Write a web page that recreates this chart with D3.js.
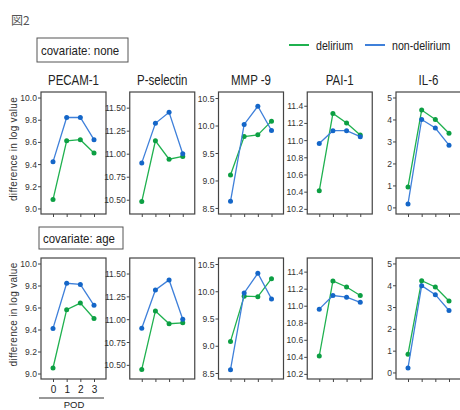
<!DOCTYPE html>
<html lang="en">
<head>
<meta charset="utf-8">
<title>図2</title>
<style>
  * { margin: 0; padding: 0; }
  body { background: #fff; width: 460px; height: 410px; overflow: hidden; }
  text { font-family: 'Liberation Sans', Arial, sans-serif; fill: #222; }
</style>
</head>
<body>
<svg id="chart" width="460" height="410"></svg>
<script src="https://d3js.org/d3.v7.min.js"></script>
<script>
// markers and post-operative days
var markers = ["PECAM-1", "P-selectin", "MMP -9", "PAI-1", "IL-6"];
var pod = [0, 1, 2, 3];

// covariate: none
var noneDelirium = [
    [9.08, 9.61, 9.62, 9.50],
    [10.48, 11.14, 10.94, 10.97],
    [9.10, 9.80, 9.83, 10.08],
    [10.41, 11.31, 11.20, 11.06],
    [0.93, 4.43, 4.00, 3.37]
];
var noneNonDelirium = [
    [9.42, 9.82, 9.82, 9.62],
    [10.90, 11.33, 11.45, 11.00],
    [8.62, 10.02, 10.35, 9.91],
    [10.96, 11.11, 11.11, 11.04],
    [0.16, 4.00, 3.61, 2.83]
];

// covariate: age
var ageDelirium = [
    [9.05, 9.58, 9.64, 9.50],
    [10.45, 11.09, 10.95, 10.96],
    [9.08, 9.91, 9.90, 10.23],
    [10.41, 11.29, 11.22, 11.12],
    [0.84, 4.21, 3.92, 3.28]
];
var ageNonDelirium = [
    [9.41, 9.82, 9.81, 9.62],
    [10.90, 11.32, 11.43, 11.00],
    [8.56, 9.97, 10.33, 9.86],
    [10.96, 11.12, 11.10, 11.04],
    [0.21, 3.98, 3.57, 2.84]
];

// y axes per marker
var yDomains = [[8.95, 10.05], [10.345, 11.67], [8.39, 10.61], [10.14, 11.56], [-0.3, 5.25]];
var yTicks = [
    [9.0, 9.2, 9.4, 9.6, 9.8, 10.0],
    [10.5, 10.75, 11.0, 11.25, 11.5],
    [8.5, 9.0, 9.5, 10.0, 10.5],
    [10.2, 10.4, 10.6, 10.8, 11.0, 11.2, 11.4],
    [0, 1, 2, 3, 4, 5]
];
var yFormats = [".1f", ".2f", ".1f", ".1f", "d"];

var green = "#1fb14f", greenDot = "#0c9f43";
var blue = "#3f80da", blueDot = "#1466c8";

var svg = d3.select("#chart");

// squeeze text horizontally like the original figure
function condense(sel, k) {
    sel.each(function () {
        var w = this.getComputedTextLength();
        d3.select(this).attr("textLength", w * k).attr("lengthAdjust", "spacingAndGlyphs");
    });
}

svg.append("text").attr("x", 11).attr("y", 25)
    .style("font-family", "'Noto Sans CJK JP', sans-serif")
    .style("font-size", "12px").style("fill", "#555")
    .text("図2");

// legend
var legend = [["delirium", green, 289], ["non-delirium", blue, 365]];
legend.forEach(function (d) {
    svg.append("line").attr("x1", d[2]).attr("x2", d[2] + 20)
        .attr("y1", 45).attr("y2", 45)
        .style("stroke", d[1]).style("stroke-width", 2);
    svg.append("text").attr("x", d[2] + 27).attr("y", 50)
        .style("font-size", "12.5px").text(d[0]).call(condense, 0.85);
});

var rows = [
    { label: "covariate: none", box: [37, 38, 91, 24], top: 92, h: 122, del: noneDelirium, non: noneNonDelirium },
    { label: "covariate: age", box: [39, 227, 84, 22], top: 258, h: 121, del: ageDelirium, non: ageNonDelirium }
];

rows.forEach(function (row, r) {
    svg.append("rect").attr("x", row.box[0]).attr("y", row.box[1])
        .attr("width", row.box[2]).attr("height", row.box[3])
        .style("fill", "#fff").style("stroke", "#555").style("stroke-width", 1);
    svg.append("text").attr("x", row.box[0] + 4).attr("y", row.box[1] + row.box[3] / 2 + 5)
        .style("font-size", "13px").text(row.label).call(condense, 0.88);

    svg.append("text")
        .attr("transform", "translate(17," + (row.top + row.h / 2 - 4) + ") rotate(-90)")
        .attr("text-anchor", "middle")
        .style("font-size", "10px").style("letter-spacing", "0.3px").style("fill", "#333")
        .text("difference in log value");

    markers.forEach(function (name, i) {
        var left = 41 + i * 88.75, w = 65;
        var x = d3.scaleLinear().domain([0, 3]).range([left + 12, left + 53]);
        var y = d3.scaleLinear().domain(yDomains[i]).range([row.top + row.h, row.top]);
        var g = svg.append("g");

        if (r === 0) {
            g.append("text").attr("x", left + w / 2).attr("y", 85)
                .attr("text-anchor", "middle").style("font-size", "14px")
                .text(name).call(condense, 0.82);
        }

        var yAxis = g.append("g").attr("transform", "translate(" + left + ",0)")
            .call(d3.axisLeft(y).tickValues(yTicks[i]).tickFormat(d3.format(yFormats[i])).tickSize(3).tickPadding(1));
        yAxis.select(".domain").remove();
        yAxis.selectAll("line").style("stroke", "#444");
        yAxis.selectAll("text").style("font-size", "9.5px").style("font-family", "'Liberation Sans', Arial, sans-serif")
            .style("fill", "#333").call(condense, 0.9);

        var xAxis = g.append("g").attr("transform", "translate(0," + (row.top + row.h) + ")")
            .call(d3.axisBottom(x).tickValues(pod).tickSize(3).tickPadding(4)
                .tickFormat(r === 1 && i === 0 ? d3.format("d") : ""));
        xAxis.select(".domain").remove();
        xAxis.selectAll("line").style("stroke", "#444");
        xAxis.selectAll("text").style("font-size", "10px").style("font-family", "'Liberation Sans', Arial, sans-serif")
            .style("fill", "#222");

        g.append("rect").attr("x", left).attr("y", row.top).attr("width", w).attr("height", row.h)
            .style("fill", "none").style("stroke", "#444").style("stroke-width", 1.2);

        var line = d3.line().x(function (d, k) { return x(pod[k]); }).y(function (d) { return y(d); });
        [[row.del[i], green, greenDot], [row.non[i], blue, blueDot]].forEach(function (s) {
            g.append("path").datum(s[0]).attr("d", line)
                .style("fill", "none").style("stroke", s[1]).style("stroke-width", 1.3);
            g.selectAll(null).data(s[0]).enter().append("circle")
                .attr("cx", function (d, k) { return x(pod[k]); })
                .attr("cy", function (d) { return y(d); })
                .attr("r", 2.5).style("fill", s[2]);
        });

        if (r === 1 && i === 0) {
            g.append("line").attr("x1", 39).attr("x2", 104).attr("y1", 398).attr("y2", 398)
                .style("stroke", "#333").style("stroke-width", 1);
            g.append("text").attr("x", 74).attr("y", 408).attr("text-anchor", "middle")
                .style("font-size", "9.5px").text("POD");
        }
    });
});
</script>
</body>
</html>
